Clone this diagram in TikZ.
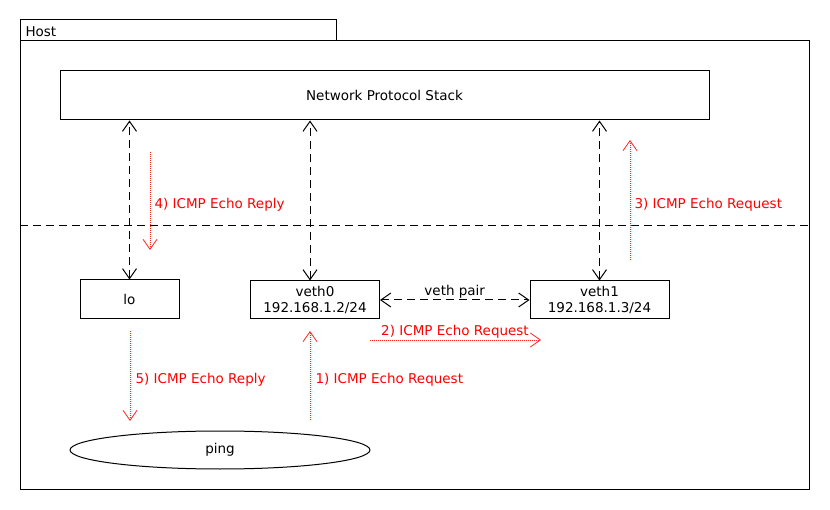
\documentclass[tikz,border=0pt]{standalone}
\usepackage{fontspec}
\setmainfont{DejaVu Sans}
\usetikzlibrary{arrows.meta,shapes.geometric}
\begin{document}
\begin{tikzpicture}[x=1pt,y=-1pt,line width=1pt,
    font=\fontsize{13.5}{15.5}\selectfont,
    box/.style = {draw,rectangle,inner sep=0pt,align=center},
    link/.style = {dash pattern=on 8pt off 5pt,{Straight Barb[length=10pt,width=14pt]}-{Straight Barb[length=10pt,width=14pt]}},
    flow/.style = {red!85,line width=0.8pt,dash pattern=on 1pt off 1pt,-{Straight Barb[length=10pt,width=14pt]}},
    flowtext/.style = {red,inner sep=0pt}]
    \useasboundingbox (0,0) rectangle (830,510);

    % host frame
    \draw (20,20) rectangle (336,41);
    \draw (20,41) rectangle (809,489);
    \node[anchor=west,inner sep=0pt] (host) at (25,31.5) {Host};
    \draw[dash pattern=on 8pt off 5pt] (20,226) -- (809,226);

    % nodes
    \node[box,minimum width=649,minimum height=49] (stack) at (384.5,95.5) {Network Protocol Stack};
    \node[box,minimum width=99,minimum height=39]  (lo)    at (129.5,299.5) {lo};
    \node[box,minimum width=129,minimum height=38] (veth0) at (315,300) {veth0\\192.168.1.2/24};
    \node[box,minimum width=139,minimum height=38] (veth1) at (599.5,300) {veth1\\192.168.1.3/24};
    \node[draw,ellipse,inner sep=0pt,minimum width=300,minimum height=38] (ping) at (220,450) {ping};

    % links to the stack
    \draw[link] (lo.north) -- (lo.north |- stack.south);
    \draw[link] ([xshift=-5]veth0.north) -- ([xshift=-5]veth0.north |- stack.south);
    \draw[link] (veth1.north) -- (veth1.north |- stack.south);
    \draw[link] (veth0.east) -- node[above=1pt,inner sep=0pt] (pair) {veth pair} (veth1.west);

    % packet path
    \coordinate (s1) at (310,420); \coordinate (e1) at (310,331);
    \coordinate (s2) at (370,340); \coordinate (e2) at (541,340);
    \coordinate (s3) at (630,260); \coordinate (e3) at (630,140);
    \coordinate (s4) at (150,152); \coordinate (e4) at (150,250);
    \coordinate (s5) at (130,331); \coordinate (e5) at (130,421);
    \draw[flow] (s1) -- (e1);
    \draw[flow] (s2) -- (e2);
    \draw[flow] (s3) -- (e3);
    \draw[flow] (s4) -- (e4);
    \draw[flow] (s5) -- (e5);
    \node[flowtext,anchor=west] (t1) at (315,379.5) {1) ICMP Echo Request};
    \node[flowtext] (t2) at (455,331.5) {2) ICMP Echo Request};
    \node[flowtext,anchor=west] (t3) at (634,204.5) {3) ICMP Echo Request};
    \node[flowtext,anchor=west] (t4) at (154,204.5) {4) ICMP Echo Reply};
    \node[flowtext,anchor=west] (t5) at (135,379.5) {5) ICMP Echo Reply};
\end{tikzpicture}
\end{document}
